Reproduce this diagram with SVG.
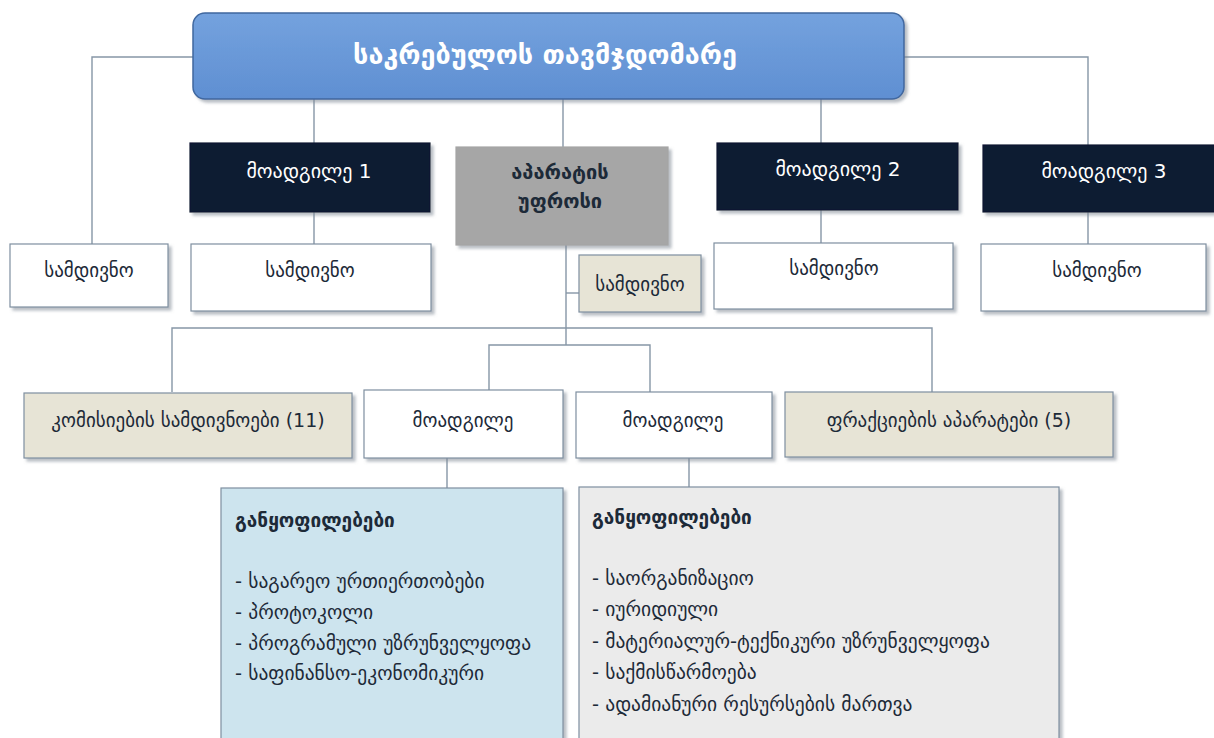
<svg xmlns="http://www.w3.org/2000/svg" width="1214" height="738" viewBox="0 0 1214 738">
<defs>
<linearGradient id="gTop" x1="0" y1="0" x2="0" y2="1">
<stop offset="0" stop-color="#74a2de"/>
<stop offset="1" stop-color="#5f8fd2"/>
</linearGradient>
<filter id="sh" x="-5%" y="-5%" width="115%" height="125%">
<feDropShadow dx="3" dy="3" stdDeviation="1.5" flood-color="#7d8793" flood-opacity="0.55"/>
</filter>
</defs>
<style>
.ln{fill:none;stroke:#8696a6;stroke-width:1.4}
.bx{stroke:#7f8fa0;stroke-width:1.2;filter:url(#sh)}
.w{fill:#ffffff}
.nv{fill:#0c1a33;stroke:#0c1a33}
.gr{fill:#a6a6a6;stroke:#a6a6a6}
.bg{fill:#e7e4d6}
.lb{fill:#cde4ee}
.lg{fill:#ebebeb}
text{font-family:"DejaVu Sans","Noto Sans",sans-serif;fill:#1d2a38}
.c{text-anchor:middle}
.t16{font-size:19px}
.wt{fill:#ffffff}
.b{font-weight:bold}
.li{font-size:19.5px}
</style>
<rect width="1214" height="738" fill="#ffffff"/>
<g id="connectors">
<polyline class="ln" points="193,57 92,57 92,244"/>
<line class="ln" x1="314" y1="99" x2="314" y2="143"/>
<line class="ln" x1="563" y1="99" x2="563" y2="147"/>
<line class="ln" x1="821" y1="99" x2="821" y2="143"/>
<polyline class="ln" points="904,57 1088,57 1088,145"/>
<line class="ln" x1="314" y1="212" x2="314" y2="244"/>
<line class="ln" x1="821" y1="210" x2="821" y2="243"/>
<line class="ln" x1="1088" y1="212" x2="1088" y2="244"/>
<line class="ln" x1="566" y1="245" x2="566" y2="345"/>
<line class="ln" x1="566" y1="293" x2="579" y2="293"/>
<polyline class="ln" points="172,392 172,328 932,328 932,392"/>
<polyline class="ln" points="489,390 489,345 650,345 650,392"/>
<line class="ln" x1="447" y1="458" x2="447" y2="488"/>
<line class="ln" x1="689" y1="458" x2="689" y2="487"/>
</g>
<g id="chair">
<rect x="193" y="13" width="711" height="86" rx="12" fill="url(#gTop)" stroke="#3f679f" stroke-width="1.5" filter="url(#sh)"/>
<text x="545" y="64" class="c wt b" style="font-size:27px">საკრებულოს თავმჯდომარე</text>
</g>
<g id="deputy1">
<rect class="bx nv" x="190" y="143" width="240" height="69"/>
<text x="309" y="178" class="c wt" style="font-size:20px">მოადგილე 1</text>
</g>
<g id="apparatus">
<rect class="bx gr" x="456" y="147" width="212" height="98"/>
<text x="560" y="179" class="c b" style="font-size:20px">აპარატის</text>
<text x="560" y="208" class="c b" style="font-size:20px">უფროსი</text>
</g>
<g id="deputy2">
<rect class="bx nv" x="717" y="143" width="241" height="67"/>
<text x="838" y="176" class="c wt" style="font-size:20px">მოადგილე 2</text>
</g>
<g id="deputy3">
<rect class="bx nv" x="983" y="145" width="240" height="67"/>
<text x="1104" y="178" class="c wt" style="font-size:20px">მოადგილე 3</text>
</g>
<g id="sec-left">
<rect class="bx w" x="10" y="244" width="158" height="63"/>
<text x="89" y="277" class="c t16">სამდივნო</text>
</g>
<g id="sec-dep1">
<rect class="bx w" x="191" y="244" width="240" height="67"/>
<text x="310" y="277" class="c t16">სამდივნო</text>
</g>
<g id="sec-app">
<rect class="bx bg" x="579" y="255" width="122" height="57"/>
<text x="640" y="291" class="c t16">სამდივნო</text>
</g>
<g id="sec-dep2">
<rect class="bx w" x="714" y="243" width="239" height="66"/>
<text x="834" y="275" class="c t16">სამდივნო</text>
</g>
<g id="sec-dep3">
<rect class="bx w" x="981" y="244" width="225" height="67"/>
<text x="1097" y="277" class="c t16">სამდივნო</text>
</g>
<g id="commissions">
<rect class="bx bg" x="24" y="393" width="328" height="65"/>
<text x="188" y="427" class="c t16">კომისიების სამდივნოები (11)</text>
</g>
<g id="dep-left">
<rect class="bx w" x="364" y="390" width="199" height="68"/>
<text x="463" y="427" class="c t16">მოადგილე</text>
</g>
<g id="dep-right">
<rect class="bx w" x="576" y="392" width="196" height="66"/>
<text x="673" y="427" class="c t16">მოადგილე</text>
</g>
<g id="factions">
<rect class="bx bg" x="785" y="392" width="328" height="65"/>
<text x="949" y="427" class="c t16">ფრაქციების აპარატები (5)</text>
</g>
<g id="depts-left">
<rect class="bx lb" x="221" y="488" width="342" height="260"/>
<text x="235" y="527" class="b" style="font-size:19px">განყოფილებები</text>
<text x="235" y="588" class="li">- საგარეო ურთიერთობები</text>
<text x="235" y="619" class="li">- პროტოკოლი</text>
<text x="235" y="650" class="li">- პროგრამული უზრუნველყოფა</text>
<text x="235" y="680" class="li">- საფინანსო-ეკონომიკური</text>
</g>
<g id="depts-right">
<rect class="bx lg" x="579" y="487" width="480" height="261"/>
<text x="592" y="524" class="b" style="font-size:19px">განყოფილებები</text>
<text x="592" y="585" class="li">- საორგანიზაციო</text>
<text x="592" y="616" class="li">- იურიდიული</text>
<text x="592" y="648" class="li">- მატერიალურ-ტექნიკური უზრუნველყოფა</text>
<text x="592" y="679" class="li">- საქმისწარმოება</text>
<text x="592" y="711" class="li">- ადამიანური რესურსების მართვა</text>
</g>
</svg>
